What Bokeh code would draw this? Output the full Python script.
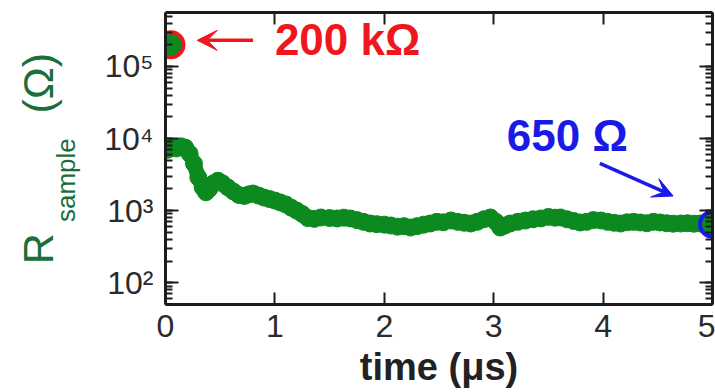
from bokeh.plotting import figure
from bokeh.models import (Range1d, LinearAxis, LogAxis, LogTicker, FixedTicker,
                          Label, Arrow, VeeHead, ColumnDataSource)
from bokeh.embed import file_html
from bokeh.resources import INLINE

# ---------------- data ----------------
t_us = [0.02, 0.06, 0.10, 0.14, 0.18, 0.22, 0.26, 0.30, 0.34, 0.37, 0.40, 0.44,
        0.48, 0.52, 0.57, 0.62, 0.67, 0.72, 0.76, 0.80, 0.85, 0.90, 0.95, 1.00,
        1.05, 1.10, 1.15, 1.20, 1.25, 1.30, 1.36, 1.42, 1.50, 1.57, 1.63, 1.69,
        1.75, 1.81, 1.87, 1.93, 2.00, 2.06, 2.12, 2.18, 2.24, 2.30, 2.36, 2.42,
        2.48, 2.54, 2.61, 2.67, 2.73, 2.79, 2.85, 2.91, 2.97, 3.02, 3.06, 3.10,
        3.15, 3.22, 3.29, 3.36, 3.43, 3.50, 3.56, 3.61, 3.67, 3.73, 3.79, 3.85,
        3.91, 3.98, 4.04, 4.10, 4.16, 4.22, 4.28, 4.34, 4.40, 4.46, 4.52, 4.58,
        4.64, 4.71, 4.77, 4.83, 4.89, 4.95]
r_sample = [7000, 7600, 7300, 7800, 7500, 6200, 4500, 2900, 2100, 1800, 2000, 2400,
            2600, 2400, 2100, 1850, 1650, 1600, 1680, 1730, 1620, 1520, 1450, 1380,
            1300, 1220, 1100, 1000, 900, 790, 770, 805, 790, 780, 800, 780,
            740, 700, 664, 650, 640, 623, 600, 610, 584, 610, 640, 664,
            700, 690, 731, 700, 680, 664, 700, 760, 805, 700, 584, 620,
            664, 700, 730, 760, 780, 820, 800, 805, 760, 720, 686, 700,
            740, 731, 700, 680, 664, 690, 700, 686, 670, 700, 686, 670,
            660, 664, 670, 660, 664, 655]

mark_t = [0.05, 5.0]
mark_r = [200000, 650]
mark_edge = ["#f0161e", "#1a1ae8"]
mark_text = ["200 k\u03a9", "650 \u03a9"]

x_ticks = [0, 1, 2, 3, 4, 5]
x_tick_labels = ["0", "1", "2", "3", "4", "5"]
y_ticks = [1e2, 1e3, 1e4, 1e5]
y_tick_labels = ["10\u00b2", "10\u00b3", "10\u2074", "10\u2075"]

x_title = "time (\u03bcs)"
NB = "\u00a0"
y_title_outer = "R" + NB * 10 + "(\u03a9)"     # symbol and unit
y_title_sub = "sample" + NB * 6               # subscript of R

# ---------------- figure ----------------
GREEN = "#0c8a20"
DARKGREEN = "#1b6e3a"
AXC = "#1c1c1c"
TXT = "#2a2a2a"
FONT = "Liberation Sans"

p = figure(width=715, height=392, y_axis_type="log",
           x_range=Range1d(0, 5), y_range=Range1d(50, 5.6e5),
           output_backend="svg", toolbar_location=None,
           min_border_left=165, min_border_right=3,
           min_border_top=12, min_border_bottom=88)
p.xgrid.visible = False
p.ygrid.visible = False
p.outline_line_color = None
p.background_fill_color = "white"
p.border_fill_color = "white"

# bottom axis
xa = p.xaxis[0]
xa.ticker = FixedTicker(ticks=x_ticks)
xa.major_label_overrides = {x: l for x, l in zip(x_ticks, x_tick_labels)}
xa.major_tick_in = 12
xa.major_tick_out = 0
xa.minor_tick_line_color = None
xa.axis_line_width = 3
xa.axis_line_color = AXC
xa.major_tick_line_width = 2
xa.major_tick_line_color = AXC
xa.major_label_text_font = FONT
xa.major_label_text_font_size = "32px"
xa.major_label_text_color = TXT
xa.major_label_standoff = 10
xa.axis_label = x_title
xa.axis_label_text_font = FONT
xa.axis_label_text_font_size = "38px"
xa.axis_label_text_font_style = "bold"
xa.axis_label_text_color = "#222222"
xa.axis_label_standoff = 6

# left axis
ya = p.yaxis[0]
ya.ticker = LogTicker(num_minor_ticks=10)
ya.major_label_overrides = {y: l for y, l in zip(y_ticks, y_tick_labels)}
ya.major_tick_in = 13
ya.major_tick_out = 0
ya.minor_tick_in = 7
ya.minor_tick_out = 0
ya.axis_line_width = 3
ya.axis_line_color = AXC
ya.major_tick_line_width = 2
ya.minor_tick_line_width = 2
ya.major_tick_line_color = AXC
ya.minor_tick_line_color = AXC
ya.major_label_text_font = FONT
ya.major_label_text_font_size = "32px"
ya.major_label_text_color = TXT
ya.major_label_text_baseline = "alphabetic"
ya.major_label_standoff = 12
ya.axis_label = y_title_sub
ya.axis_label_text_font = FONT
ya.axis_label_text_font_size = "26px"
ya.axis_label_text_font_style = "normal"
ya.axis_label_text_color = DARKGREEN
ya.axis_label_standoff = 20

# outer left "axis" carrying only the R ... (Ω) title
ya2 = LogAxis(ticker=LogTicker(num_minor_ticks=10), axis_line_color=None,
              major_tick_line_color=None, minor_tick_line_color=None,
              major_tick_in=0, major_tick_out=0, minor_tick_in=0, minor_tick_out=0,
              major_label_text_color=None, major_label_text_font_size="1px",
              major_label_standoff=0,
              axis_label=y_title_outer, axis_label_text_font=FONT,
              axis_label_text_font_size="43px", axis_label_text_font_style="normal",
              axis_label_text_color=DARKGREEN, axis_label_standoff=-13)
p.add_layout(ya2, "left")

# top axis (ticks only)
top = LinearAxis(ticker=FixedTicker(ticks=x_ticks), major_tick_in=12, major_tick_out=0,
                 minor_tick_line_color=None, axis_line_width=3, axis_line_color=AXC,
                 major_tick_line_width=2, major_tick_line_color=AXC,
                 major_label_text_color=None, major_label_text_font_size="1px",
                 major_label_standoff=0)
p.add_layout(top, "above")

# right axis (ticks only)
right = LogAxis(ticker=LogTicker(num_minor_ticks=10), major_tick_in=13, major_tick_out=0,
                minor_tick_in=7, minor_tick_out=0, axis_line_width=3, axis_line_color=AXC,
                major_tick_line_width=2, minor_tick_line_width=2,
                major_tick_line_color=AXC, minor_tick_line_color=AXC,
                major_label_text_color=None, major_label_text_font_size="1px",
                major_label_standoff=0)
p.add_layout(right, "right")

# data
src = ColumnDataSource(dict(t=t_us, r=r_sample))
p.line("t", "r", source=src, line_color=GREEN, line_width=15)
p.scatter("t", "r", source=src, size=17, fill_color=GREEN, line_color=GREEN,
          line_width=1)

msrc = ColumnDataSource(dict(t=mark_t, r=mark_r, edge=mark_edge))
p.scatter("t", "r", source=msrc, size=25, fill_color=GREEN, line_color="edge",
          line_width=4)

# annotations
RED = mark_edge[0]
BLUE = mark_edge[1]
p.add_layout(Label(x=1.0, y=2.37e5, text=mark_text[0], text_color=RED,
                   text_font=FONT, text_font_style="bold", text_font_size="44px",
                   text_baseline="middle", text_align="left"))
p.add_layout(Arrow(x_start=0.80, y_start=2.3e5, x_end=0.29, y_end=2.3e5,
                   line_color=RED, line_width=3.5,
                   end=VeeHead(size=20, fill_color=RED, line_color=RED, line_width=1)))

p.add_layout(Label(x=3.12, y=1.1e4, text=mark_text[1], text_color=BLUE,
                   text_font=FONT, text_font_style="bold", text_font_size="44px",
                   text_baseline="middle", text_align="left"))
p.add_layout(Arrow(x_start=3.97, y_start=4520, x_end=4.64, y_end=1600,
                   line_color=BLUE, line_width=3.5,
                   end=VeeHead(size=20, fill_color=BLUE, line_color=BLUE, line_width=1)))

open("out.html", "w").write(file_html(p, INLINE))
